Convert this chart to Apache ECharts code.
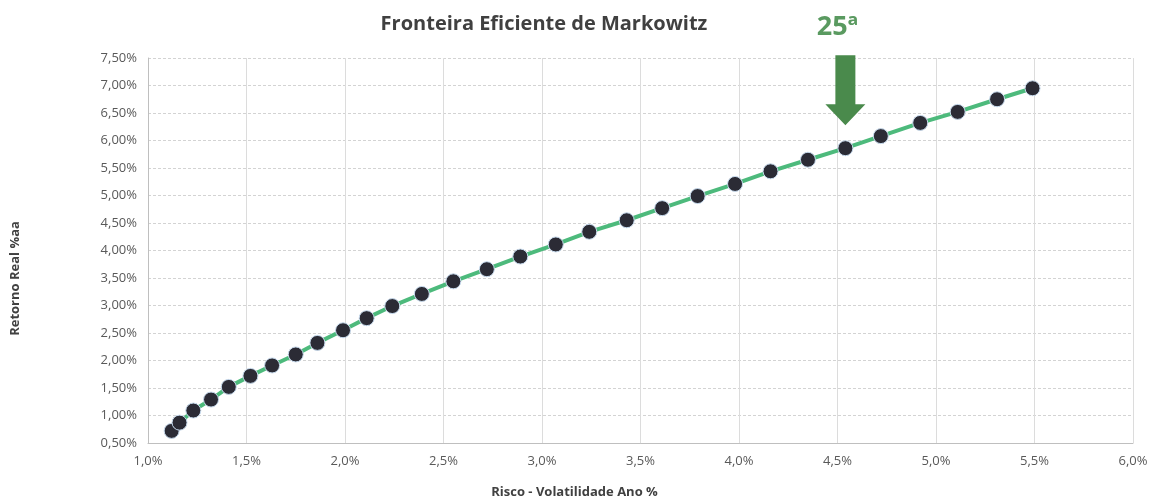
<!DOCTYPE html>
<html>
<head>
<meta charset="utf-8">
<title>Fronteira Eficiente de Markowitz</title>
<script src="https://cdn.jsdelivr.net/npm/echarts@6/dist/echarts.min.js"></script>
<style>
  html, body { margin: 0; padding: 0; background: #fff; }
  #main { width: 1156px; height: 504px; }
</style>
</head>
<body>
<div id="main"></div>
<script>
// risco (volatilidade % a.a.) e retorno real (% a.a.) de cada carteira da fronteira
var risco = [1.12, 1.16, 1.23, 1.32, 1.41, 1.52, 1.63, 1.75, 1.86, 1.99,
             2.11, 2.24, 2.39, 2.55, 2.72, 2.89, 3.07, 3.24, 3.43, 3.61,
             3.79, 3.98, 4.16, 4.35, 4.54, 4.72, 4.92, 5.11, 5.31, 5.49];
var retorno = [0.72, 0.87, 1.09, 1.29, 1.52, 1.72, 1.91, 2.11, 2.32, 2.55,
               2.77, 2.99, 3.21, 3.44, 3.66, 3.89, 4.11, 4.34, 4.55, 4.77,
               4.99, 5.21, 5.44, 5.65, 5.86, 6.08, 6.32, 6.52, 6.75, 6.95];
var destaque = 25; // carteira marcada com a seta

var pontos = [];
for (var i = 0; i < risco.length; i++) {
    pontos.push([risco[i], retorno[i]]);
}

var myChart = echarts.init(document.getElementById('main'));
var fonte = "'Open Sans', 'Noto Sans', sans-serif";

var option = {
    backgroundColor: '#ffffff',
    animation: false,
    title: {
        text: 'Fronteira Eficiente de Markowitz',
        left: 539,
        top: 9,
        textAlign: 'center',
        textStyle: { color: '#404040', fontSize: 20, fontWeight: 'bold', fontFamily: fonte }
    },
    grid: { left: 148, right: 23, top: 58, bottom: 57 },
    xAxis: {
        type: 'value',
        min: 1, max: 6, interval: 0.5,
        name: 'Risco - Volatilidade Ano %',
        nameLocation: 'middle',
        nameGap: 43,
        nameTextStyle: { color: '#404040', fontSize: 13, fontWeight: 'bold', fontFamily: fonte, padding: [0, 132, 0, 0] },
        axisLine: { lineStyle: { color: '#bfbfbf' } },
        axisTick: { show: false },
        axisLabel: {
            color: '#595959', fontSize: 13, fontFamily: fonte, margin: 12,
            formatter: function (v) { return v.toFixed(1).replace('.', ',') + '%'; }
        },
        splitLine: { lineStyle: { color: '#dcdcdc' } }
    },
    yAxis: {
        type: 'value',
        min: 0.5, max: 7.5, interval: 0.5,
        name: 'Retorno Real %aa',
        nameLocation: 'middle',
        nameGap: 126,
        nameTextStyle: { color: '#404040', fontSize: 13, fontWeight: 'bold', fontFamily: fonte, padding: [0, 56, 0, 0] },
        axisLine: { show: true, lineStyle: { color: '#bfbfbf' } },
        axisTick: { show: false },
        axisLabel: {
            color: '#595959', fontSize: 13, fontFamily: fonte, margin: 11,
            formatter: function (v) { return v.toFixed(2).replace('.', ',') + '%'; }
        },
        splitLine: { lineStyle: { color: '#d3d3d3', type: [3, 2] } }
    },
    series: [
        {
            name: 'Fronteira',
            type: 'line',
            data: pontos,
            symbol: 'circle',
            symbolSize: 15,
            lineStyle: { color: '#4dba7c', width: 4 },
            itemStyle: { color: '#2b2b35', borderColor: '#c9dcef', borderWidth: 1 },
            markPoint: {
                symbol: 'path://M10,0L30,0L30,49L40,49L20,70L0,49L10,49Z',
                symbolSize: [40, 70],
                symbolOffset: [0, -58],
                itemStyle: { color: '#4a8a4c' },
                label: {
                    show: true,
                    position: 'top',
                    distance: 14,
                    offset: [-8, 0],
                    formatter: destaque + 'ª',
                    color: '#5a9a60',
                    fontSize: 27,
                    fontWeight: 'bold',
                    fontFamily: fonte
                },
                data: [{ coord: pontos[destaque - 1] }]
            }
        }
    ]
};

myChart.setOption(option);
window.addEventListener('resize', function () {
    myChart.resize();
});
</script>
</body>
</html>
